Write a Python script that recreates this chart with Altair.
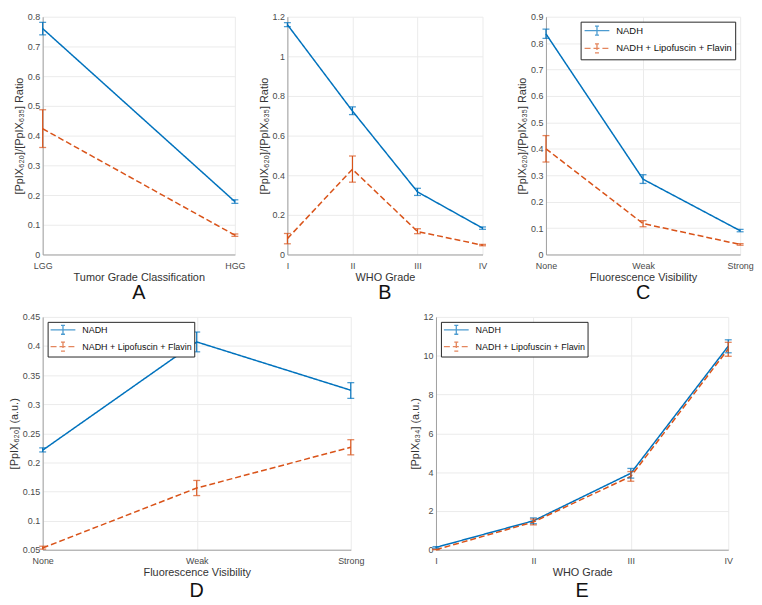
import altair as alt
import pandas as pd

SERIES = ["NADH", "NADH + Lipofuscin + Flavin"]
COLORS = ["#0072BD", "#D95319"]
FONT = "Liberation Sans"

# ---- Panel A ----
a_cats = ["LGG", "HGG"]
a_nadh = [0.760, 0.178]
a_nadh_lo = [0.739, 0.172]
a_nadh_hi = [0.781, 0.184]
a_comb = [0.423, 0.065]
a_comb_lo = [0.360, 0.061]
a_comb_hi = [0.487, 0.069]

# ---- Panel B ----
b_cats = ["I", "II", "III", "IV"]
b_nadh = [1.160, 0.724, 0.316, 0.133]
b_nadh_lo = [1.150, 0.706, 0.298, 0.127]
b_nadh_hi = [1.170, 0.745, 0.334, 0.139]
b_comb = [0.080, 0.430, 0.116, 0.047]
b_comb_lo = [0.054, 0.365, 0.105, 0.044]
b_comb_hi = [0.106, 0.497, 0.130, 0.051]

# ---- Panel C ----
c_cats = ["None", "Weak", "Strong"]
c_nadh = [0.835, 0.285, 0.090]
c_nadh_lo = [0.818, 0.269, 0.086]
c_nadh_hi = [0.853, 0.302, 0.095]
c_comb = [0.400, 0.117, 0.038]
c_comb_lo = [0.350, 0.105, 0.035]
c_comb_hi = [0.450, 0.128, 0.041]

# ---- Panel D ----
d_cats = ["None", "Weak", "Strong"]
d_nadh = [0.221, 0.407, 0.324]
d_nadh_lo = [0.218, 0.390, 0.310]
d_nadh_hi = [0.225, 0.424, 0.337]
d_comb = [0.053, 0.156, 0.226]
d_comb_lo = [0.051, 0.143, 0.213]
d_comb_hi = [0.056, 0.169, 0.239]

# ---- Panel E ----
e_cats = ["I", "II", "III", "IV"]
e_nadh = [0.12, 1.49, 3.94, 10.49]
e_nadh_lo = [0.08, 1.34, 3.69, 10.15]
e_nadh_hi = [0.16, 1.64, 4.19, 10.82]
e_comb = [0.00, 1.43, 3.78, 10.35]
e_comb_lo = [0.00, 1.28, 3.53, 9.97]
e_comb_hi = [0.02, 1.58, 4.03, 10.69]

# legend symbol: short line with an error-bar "I" on it
LEG_SYMBOL = "M-1,0H4M1.5,-0.9V0.9M1.1,-0.9H1.9M1.1,0.9H1.9"


def make_df(cats, n, nlo, nhi, c, clo, chi):
    rows = []
    for i, cat in enumerate(cats):
        rows.append({"cat": cat, "series": SERIES[0], "val": n[i], "lo": nlo[i], "hi": nhi[i]})
    for i, cat in enumerate(cats):
        rows.append({"cat": cat, "series": SERIES[1], "val": c[i], "lo": clo[i], "hi": chi[i]})
    return pd.DataFrame(rows)


def panel(df, cats, xtitle, ytitle, ydom, yvals, w, h, letter, letter_offset,
          legend_orient=None, legend_font=9, legend_rowpad=1, legend_pad=2):
    xenc = alt.X("cat:N", sort=cats, scale=alt.Scale(type="point", padding=0),
                 axis=alt.Axis(title=xtitle, labelAngle=0, grid=True))
    yscale = alt.Scale(domain=ydom, nice=False, zero=False)
    yaxis = alt.Axis(title=ytitle, values=yvals, format="~g", grid=True)
    if legend_orient:
        leg = alt.Legend(title=None, orient=legend_orient, offset=5,
                         symbolType=LEG_SYMBOL, symbolSize=100, symbolStrokeWidth=1.3,
                         labelOffset=21, labelFontSize=legend_font, labelColor="#111",
                         labelFont=FONT, strokeColor="#262626", fillColor="white",
                         padding=legend_pad, rowPadding=legend_rowpad, labelLimit=300)
    else:
        leg = None
    color = alt.Color("series:N", scale=alt.Scale(domain=SERIES, range=COLORS), legend=leg)
    dash = alt.StrokeDash("series:N", scale=alt.Scale(domain=SERIES, range=[[1, 0], [6, 3]]), legend=leg)
    base = alt.Chart(df)
    line = base.mark_line(strokeWidth=1.5).encode(
        x=xenc, y=alt.Y("val:Q", scale=yscale, axis=yaxis), color=color, strokeDash=dash)
    rule = base.mark_rule(strokeWidth=1.2).encode(
        x=xenc, y=alt.Y("lo:Q", scale=yscale, axis=yaxis), y2="hi:Q", color=color)
    cap_lo = base.mark_tick(orient="horizontal", size=7, thickness=1.3).encode(
        x=xenc, y=alt.Y("lo:Q", scale=yscale, axis=yaxis), color=color)
    cap_hi = base.mark_tick(orient="horizontal", size=7, thickness=1.3).encode(
        x=xenc, y=alt.Y("hi:Q", scale=yscale, axis=yaxis), color=color)
    return alt.layer(line, rule, cap_lo, cap_hi).properties(
        width=w, height=h,
        title=alt.TitleParams(letter, orient="bottom", fontSize=20, fontWeight="normal",
                              font=FONT, color="#111", offset=letter_offset))


ratio_title = "[PpIX₆₂₀]/[PpIX₆₃₅] Ratio"

pA = panel(make_df(a_cats, a_nadh, a_nadh_lo, a_nadh_hi, a_comb, a_comb_lo, a_comb_hi),
           a_cats, "Tumor Grade Classification", ratio_title, [0, 0.8],
           [0, 0.1, 0.2, 0.3, 0.4, 0.5, 0.6, 0.7, 0.8], 194, 240, "A", 1)
pB = panel(make_df(b_cats, b_nadh, b_nadh_lo, b_nadh_hi, b_comb, b_comb_lo, b_comb_hi),
           b_cats, "WHO Grade", ratio_title, [0, 1.2],
           [0, 0.2, 0.4, 0.6, 0.8, 1, 1.2], 197, 240, "B", 1)
pC = panel(make_df(c_cats, c_nadh, c_nadh_lo, c_nadh_hi, c_comb, c_comb_lo, c_comb_hi),
           c_cats, "Fluorescence Visibility", ratio_title, [0, 0.9],
           [0, 0.1, 0.2, 0.3, 0.4, 0.5, 0.6, 0.7, 0.8, 0.9], 196, 240, "C", 1, "top-right",
           legend_font=9.5, legend_rowpad=2, legend_pad=3)
pD = panel(make_df(d_cats, d_nadh, d_nadh_lo, d_nadh_hi, d_comb, d_comb_lo, d_comb_hi),
           d_cats, "Fluorescence Visibility", "[PpIX₆₂₀] (a.u.)", [0.05, 0.45],
           [0.05, 0.1, 0.15, 0.2, 0.25, 0.3, 0.35, 0.4, 0.45], 311, 235, "D", 4, "top-left")
pE = panel(make_df(e_cats, e_nadh, e_nadh_lo, e_nadh_hi, e_comb, e_comb_lo, e_comb_hi),
           e_cats, "WHO Grade", "[PpIX₆₃₄] (a.u.)", [0, 12],
           [0, 2, 4, 6, 8, 10, 12], 295, 235, "E", 4, "top-left")

res = dict(color="independent", strokeDash="independent", x="independent", y="independent")
leg_res = dict(color="independent", strokeDash="independent")

top_ab = alt.hconcat(pA, pB, spacing=12).resolve_scale(**res).resolve_legend(**leg_res)
top = alt.hconcat(top_ab, pC, spacing=29).resolve_scale(**res).resolve_legend(**leg_res)
bottom = alt.hconcat(pD, pE, spacing=44).resolve_scale(**res).resolve_legend(**leg_res)

chart = alt.vconcat(top, bottom, spacing=10).resolve_scale(**res).resolve_legend(
    **leg_res
).properties(
    padding={"left": 0, "top": 2, "right": 0, "bottom": 0}
).configure(font=FONT).configure_view(stroke=None).configure_axis(
    domainColor="#a0a0a0", domainWidth=1, gridColor="#ebebeb", gridWidth=1,
    tickSize=0, ticks=False, labelFontSize=9, labelColor="#4a4a4a", labelFont=FONT,
    titleFontSize=11, titleFontWeight="normal", titleColor="#333", titleFont=FONT,
    labelPadding=3, titlePadding=3
).configure_axisX(labelFlush=False, labelPadding=7, titlePadding=1)

chart.save("out.html", embed_options={"renderer": "svg", "actions": False})
